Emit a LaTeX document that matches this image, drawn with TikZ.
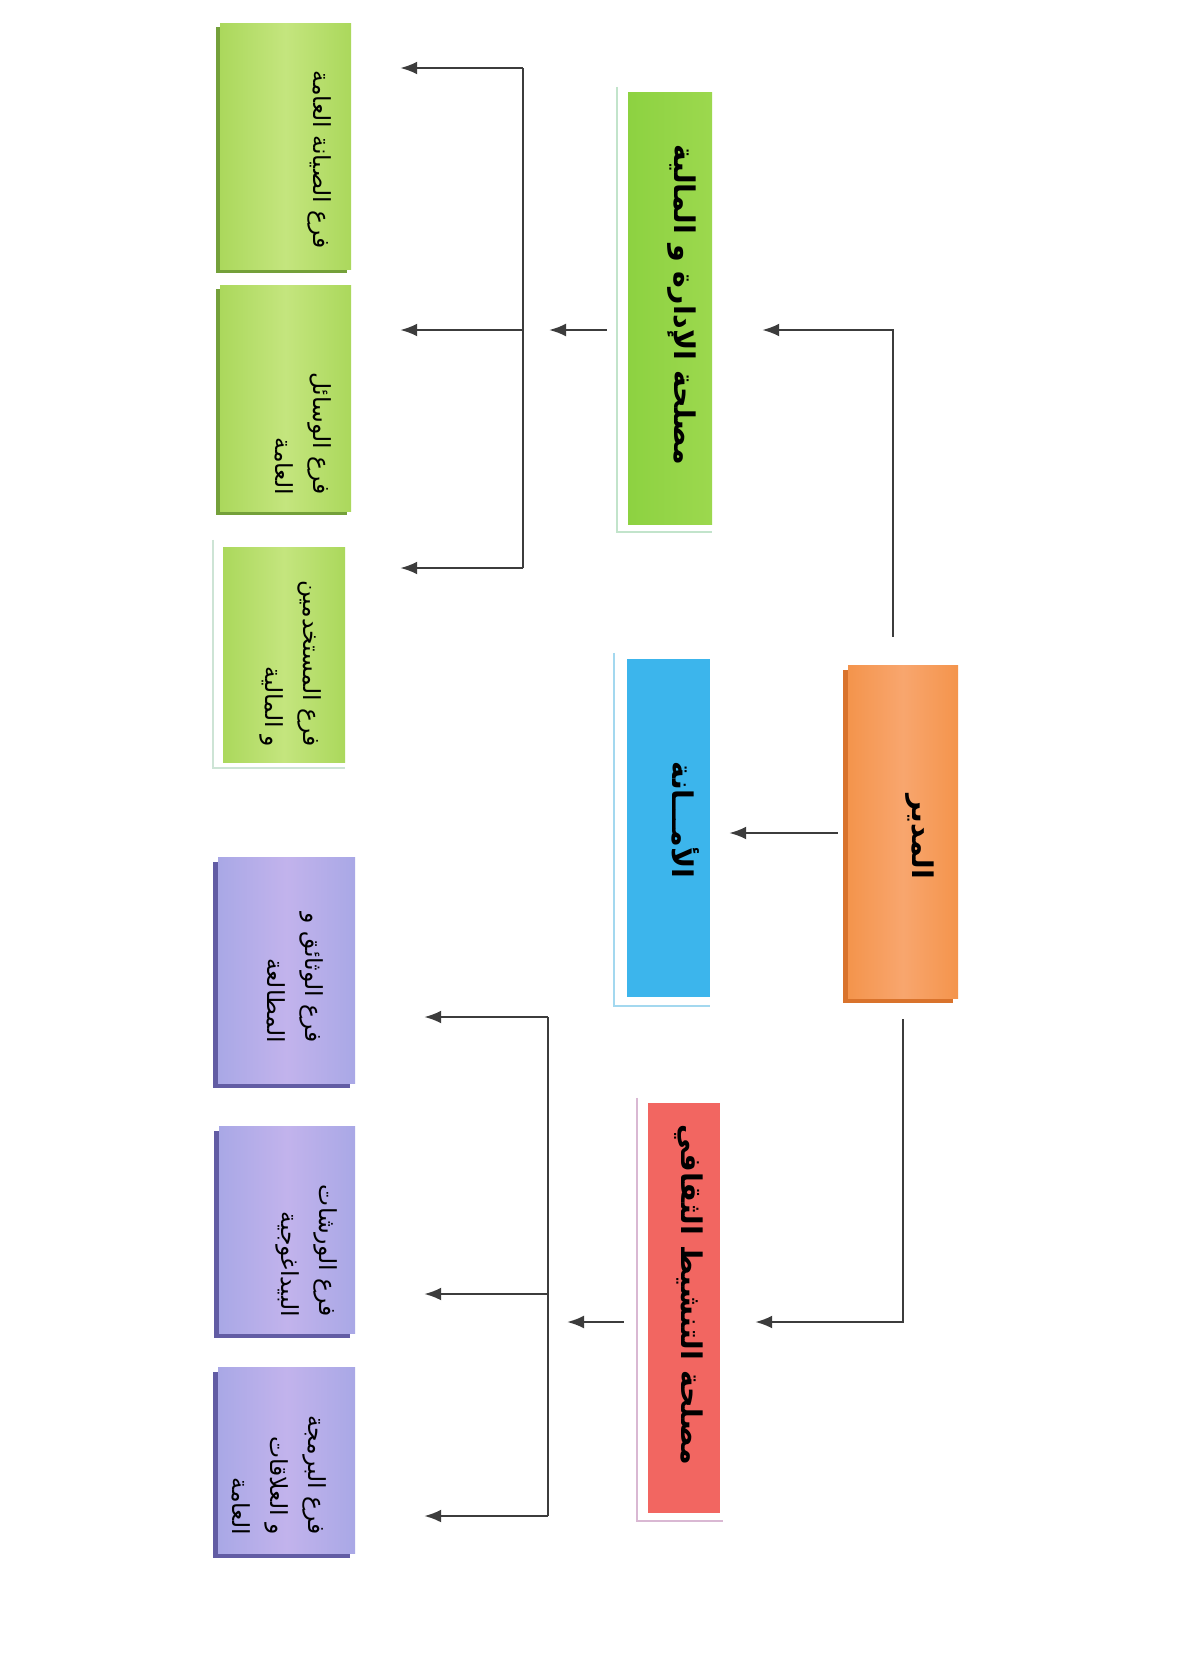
\documentclass[tikz,border=0pt]{standalone}
\usepackage{fontspec}
\usetikzlibrary{arrows.meta,shadows}
\newfontfamily\arabicfont[Script=Arabic]{DejaVu Sans}
\TeXXeTstate=1
\definecolor{dirorange}{HTML}{F4944C}
\definecolor{dirlight}{HTML}{F8A66E}
\definecolor{dirshade}{HTML}{D9732C}
\definecolor{admgreen}{HTML}{8DD241}
\definecolor{admlight}{HTML}{9CD84E}
\definecolor{secblue}{HTML}{3CB5EC}
\definecolor{actred}{HTML}{F26661}
\definecolor{leafA}{HTML}{C4E57E}
\definecolor{leafB}{HTML}{ABD85C}
\definecolor{leafshade}{HTML}{74A03A}
\definecolor{lilacA}{HTML}{C2B3EC}
\definecolor{lilacB}{HTML}{A9A8E6}
\definecolor{lilacshade}{HTML}{625CA4}
\definecolor{admframe}{HTML}{C2E4CB}
\definecolor{secframe}{HTML}{A3D8EF}
\definecolor{actframe}{HTML}{D9B8D3}
\definecolor{leafframe}{HTML}{CDE4D5}
\definecolor{wire}{HTML}{3C3C3C}
\begin{document}
\begin{tikzpicture}[x=1pt,y=1pt,
conn/.style={wire,line width=2.4pt,-{Latex[length=17pt,width=13pt]}},
bus/.style={wire,line width=2.4pt},
frame/.style={#1,line width=2.5pt},
leafg/.style={left color=leafB,right color=leafB,middle color=leafA,drop shadow={shadow xshift=-4pt,shadow yshift=-4pt,fill=leafshade,opacity=1}},
leafp/.style={left color=lilacB,right color=lilacB,middle color=lilacA,drop shadow={shadow xshift=-5pt,shadow yshift=-5pt,fill=lilacshade,opacity=1}},
head/.style={rotate=-90,font=\arabicfont\bfseries\fontsize{28.5}{34}\selectfont},
branch/.style={rotate=-90,anchor=north east,align=right,font=\arabicfont\fontsize{23.5}{38}\selectfont}]
\tikzstyle{every node}+=[inner sep=0pt]
\useasboundingbox (0,0) rectangle (1178,-1657);
\fill [white] (0,0) rectangle (1178,-1657);
\node (dir) [left color=dirorange,right color=dirorange,middle color=dirlight,drop shadow={shadow xshift=-5pt,shadow yshift=-5pt,fill=dirshade,opacity=1},minimum width=110pt,minimum height=333pt] at (903,-831.5) {};
\node (adm) [left color=admgreen,right color=admlight,minimum width=84pt,minimum height=432pt] at (670,-308) {};
\node (sec) [fill=secblue,minimum width=83pt,minimum height=338pt] at (668.5,-828) {};
\node (act) [fill=actred,minimum width=72pt,minimum height=410pt] at (684,-1308) {};
\draw [frame=admframe] ([xshift=-11pt,yshift=5pt]adm.north west) |- ([yshift=-8pt]adm.south east);
\draw [frame=secframe] ([xshift=-13pt,yshift=6pt]sec.north west) |- ([yshift=-9pt]sec.south east);
\draw [frame=actframe] ([xshift=-11pt,yshift=5pt]act.north west) |- ([xshift=3pt,yshift=-8pt]act.south east);
\node (b1) [leafg,minimum width=131pt,minimum height=246pt] at (285.5,-146) {};
\node (b2) [leafg,minimum width=131pt,minimum height=226pt] at (285.5,-398) {};
\node (b3) [left color=leafB,right color=leafB,middle color=leafA,minimum width=122pt,minimum height=215pt] at (284,-654.5) {};
\draw [frame=leafframe] ([xshift=-10pt,yshift=7pt]b3.north west) |- ([yshift=-6pt]b3.south east);
\node (b4) [leafp,minimum width=137pt,minimum height=226pt] at (286.5,-970) {};
\node (b5) [leafp,minimum width=136pt,minimum height=207pt] at (287,-1229.5) {};
\node (b6) [leafp,minimum width=137pt,minimum height=186pt] at (286.5,-1460) {};
\node (tdir) [head] at (920,-837) {\beginR المدير\endR};
\node (tadm) [head] at (682,-305) {\beginR مصلحة الإدارة و المالية\endR};
\node (tsec) [head] at (686,-820) {\beginR الأمـــانة\endR};
\node (tact) [head] at (689,-1295) {\beginR مصلحة التنشيط الثقافي\endR};
\node (t1) [branch] at (332,-249) {\beginR فرع الصيانة العامة\endR};
\node (t2) [branch] at (332,-495) {\beginR فرع الوسائل\endR\\\beginR العامة\endR};
\node (t3) [branch] at (322,-747) {\beginR فرع المستخدمين\endR\\\beginR و المالية\endR};
\node (t4) [branch] at (324,-1043) {\beginR فرع الوثائق و\endR\\\beginR المطالعة\endR};
\node (t5) [branch] at (338,-1317) {\beginR فرع الورشات\endR\\\beginR البيداغوجية\endR};
\node (t6) [branch] at (327,-1535) {\beginR فرع البرمجة\endR\\\beginR و العلاقات\endR\\\beginR العامة\endR};
\coordinate (ga) at (523,-68);
\coordinate (gb) at (523,-330);
\coordinate (gc) at (523,-568);
\coordinate (pa) at (548,-1017);
\coordinate (pb) at (548,-1294);
\coordinate (pc) at (548,-1516);
\coordinate (pm) at (548,-1322);
\draw [conn] ([xshift=-10pt,yshift=28pt]dir.north) |- ([xshift=50pt,yshift=-22pt]adm.east);
\draw [conn] ([xshift=-10pt,yshift=-1.5pt]dir.west) -- ([xshift=19pt,yshift=-5pt]sec.east);
\draw [conn] ([yshift=-21pt]dir.south) |- ([xshift=35pt,yshift=-14pt]act.east);
\draw [conn] ([xshift=-21pt,yshift=-22pt]adm.west) -- ([xshift=26pt]gb);
\draw [conn] ([xshift=-24pt,yshift=-14pt]act.west) -- ([xshift=19pt]pm);
\draw [bus] (ga) -- (gc);
\draw [bus] (pa) -- (pc);
\draw [conn] (ga) -- ([xshift=49pt,yshift=78pt]b1.east);
\draw [conn] (gb) -- ([xshift=49pt,yshift=68pt]b2.east);
\draw [conn] (gc) -- ([xshift=55pt,yshift=86.5pt]b3.east);
\draw [conn] (pa) -- ([xshift=69pt,yshift=-47pt]b4.east);
\draw [conn] (pb) -- ([xshift=69pt,yshift=-64.5pt]b5.east);
\draw [conn] (pc) -- ([xshift=69pt,yshift=-56pt]b6.east);
\end{tikzpicture}
\end{document}
